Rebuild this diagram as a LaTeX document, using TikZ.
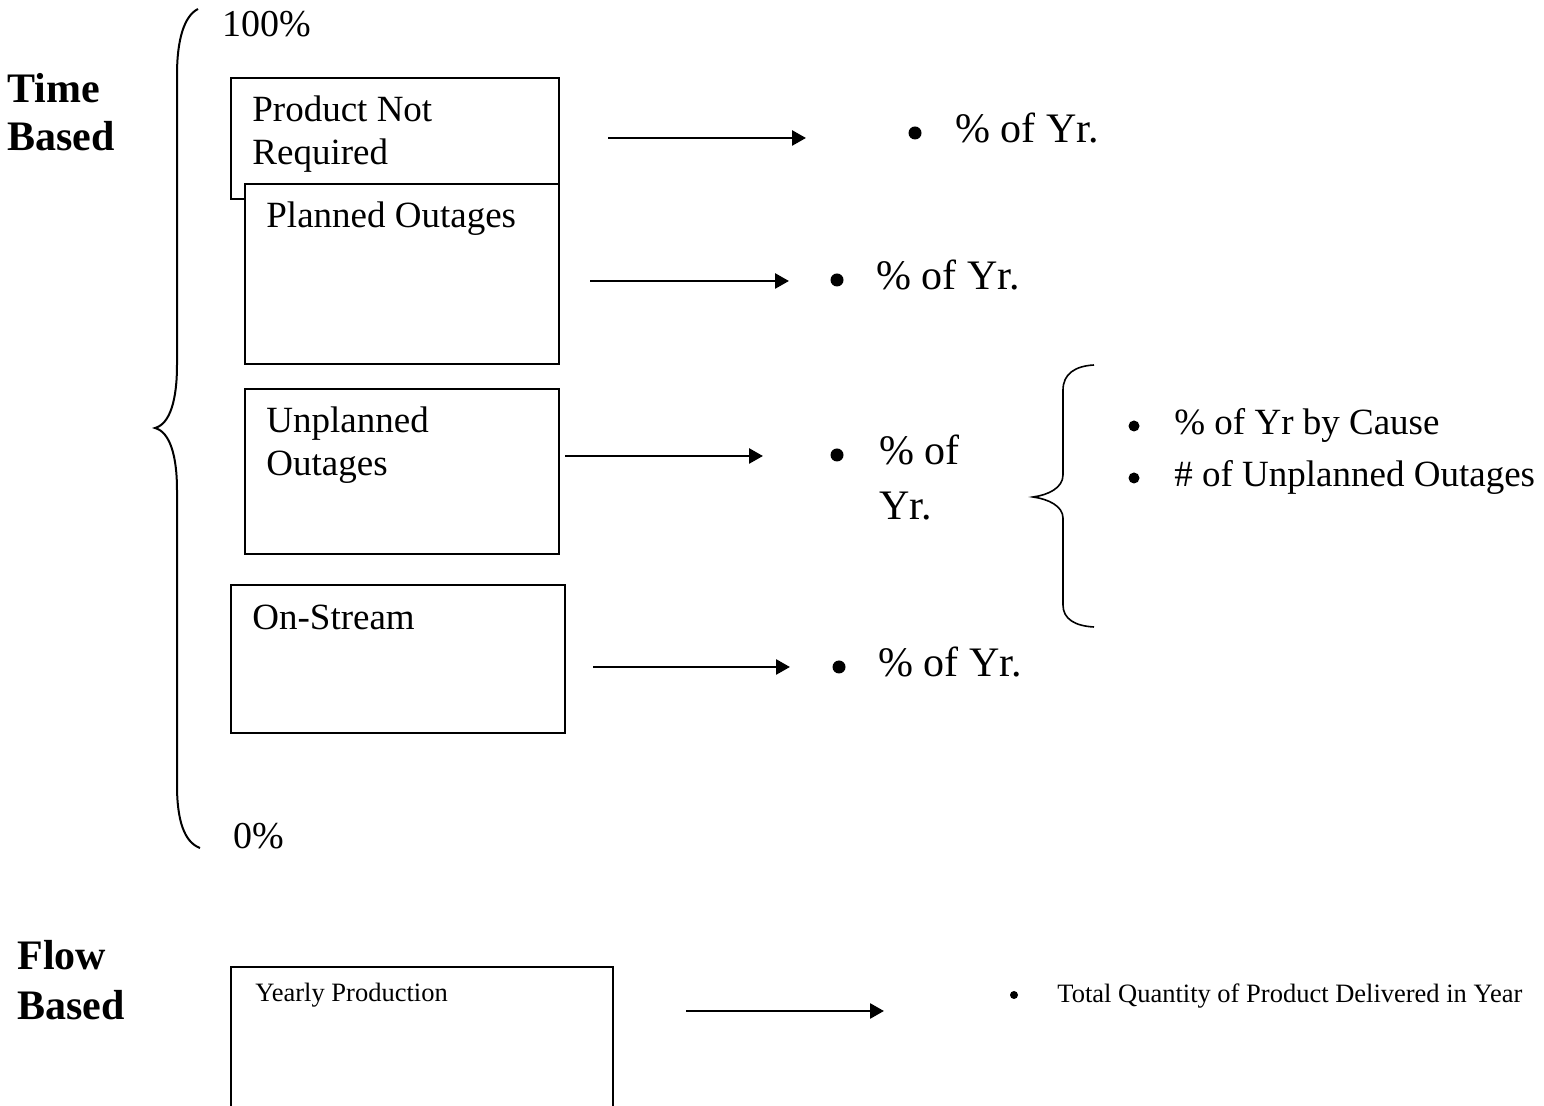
\documentclass[tikz,border=0pt]{standalone}
\usepackage{fontspec}
\setmainfont{Liberation Serif}
\usetikzlibrary{arrows.meta}
\begin{document}
\begin{tikzpicture}[x=0.5pt,y=-0.5pt,
  box/.style={draw,line width=1pt,fill=white,inner sep=0pt},
  txt/.style={anchor=base west,inner sep=0pt,font=\fontsize{18.5pt}{22pt}\selectfont},
  big/.style={anchor=base west,inner sep=0pt,font=\fontsize{21pt}{25pt}\selectfont},
  bold/.style={anchor=base west,inner sep=0pt,font=\fontsize{21pt}{25pt}\selectfont\bfseries},
  small/.style={anchor=base west,inner sep=0pt,font=\fontsize{13.25pt}{16pt}\selectfont},
  pct/.style={anchor=base west,inner sep=0pt,font=\fontsize{19pt}{23pt}\selectfont},
  bulbig/.style={circle,fill=black,inner sep=0pt,minimum size=6.5pt},
  bulmid/.style={circle,fill=black,inner sep=0pt,minimum size=5.5pt},
  bulsmall/.style={circle,fill=black,inner sep=0pt,minimum size=4pt},
  arr/.style={line width=1.35pt,-{Triangle[length=7pt,width=7.5pt]}},
  brace/.style={line width=1pt},
  sbrace/.style={line width=0.8pt}
]
\clip (0,0) rectangle (1544,1106);
\fill[white] (0,0) rectangle (1544,1106);

% left labels
\node[bold] (time) at (7,103) {Time};
\node[bold] (based1) at (7,151) {Based};
\node[bold] (flow) at (17,970) {Flow};
\node[bold] (based2) at (17,1020) {Based};

% big brace
\draw[brace] (198,9) .. controls (184,16) and (177,40) .. (177,75) -- (177,365)
  .. controls (177,400) and (170,424) .. (155,428)
  .. controls (170,432) and (177,456) .. (177,490) -- (177,785)
  .. controls (177,820) and (184,842) .. (200,848);
\node[pct] (p100) at (222,37) {100\%};
\node[pct] (p0) at (233,849) {0\%};

% boxes
\node[box,minimum width=164pt,minimum height=60.5pt] (pnr) at (395,138.5) {};
\node[txt] (pnrA) at (252,122) {Product Not};
\node[txt] (pnrB) at (252,165) {Required};
\node[box,minimum width=157pt,minimum height=90pt] (plan) at (402,274) {};
\node[txt] (planA) at (266,228) {Planned Outages};
\node[box,minimum width=157pt,minimum height=82.5pt] (unpl) at (402,471.5) {};
\node[txt] (unplA) at (266,433) {Unplanned};
\node[txt] (unplB) at (266,476) {Outages};
\node[box,minimum width=167pt,minimum height=74pt] (onst) at (398,659) {};
\node[txt] (onstA) at (252,630) {On-Stream};
\node[box,minimum width=191pt,minimum height=90pt] (yearly) at (422,1057) {};
\node[small] (yearlyA) at (255,1001) {Yearly Production};

% arrows
\coordinate (a1s) at (608,138); \coordinate (a1e) at (806,138);
\coordinate (a2s) at (590,281); \coordinate (a2e) at (789,281);
\coordinate (a3s) at (565,456); \coordinate (a3e) at (763,456);
\coordinate (a4s) at (593,667); \coordinate (a4e) at (790,667);
\coordinate (a5s) at (686,1011); \coordinate (a5e) at (884,1011);
\draw[arr] (a1s) -- (a1e);
\draw[arr] (a2s) -- (a2e);
\draw[arr] (a3s) -- (a3e);
\draw[arr] (a4s) -- (a4e);
\draw[arr] (a5s) -- (a5e);

% % of Yr. bullets
\node[bulbig] (b1) at (915,133) {};
\node[big] (r1) at (955,143) {\% of Yr.};
\node[bulbig] (b2) at (837,280) {};
\node[big] (r2) at (876,290) {\% of Yr.};
\node[bulbig] (b3) at (837,455) {};
\node[big] (r3a) at (879,465) {\% of};
\node[big] (r3b) at (879,520) {Yr.};
\node[bulbig] (b4) at (839,667) {};
\node[big] (r4) at (878,677) {\% of Yr.};

% small brace
\draw[sbrace] (1094,365) .. controls (1075,366) and (1063,374) .. (1063,390) -- (1063,475)
  .. controls (1063,488) and (1048,495) .. (1033,497)
  .. controls (1048,499) and (1063,506) .. (1063,518) -- (1063,605)
  .. controls (1063,619) and (1075,626) .. (1094,627);
\node[bulmid] (b5) at (1134,426) {};
\node[txt] (c1) at (1174,435) {\% of Yr by Cause};
\node[bulmid] (b6) at (1134,478) {};
\node[txt] (c2) at (1174,487) {\# of Unplanned Outages};

% bottom bullet
\node[bulsmall] (b7) at (1014,995) {};
\node[small] (tq) at (1057,1003) {Total Quantity of Product Delivered in Year};
\end{tikzpicture}
\end{document}
